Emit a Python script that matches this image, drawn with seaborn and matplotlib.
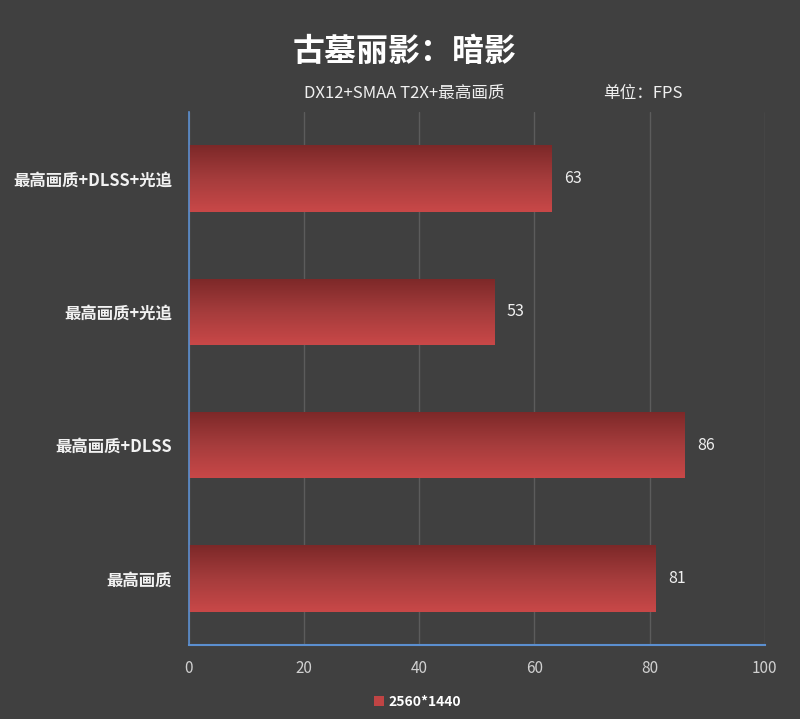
import matplotlib
matplotlib.use("Agg")
import matplotlib.pyplot as plt
import seaborn as sns
import numpy as np
import pandas as pd
from matplotlib.colors import LinearSegmentedColormap

categories = ["最高画质+DLSS+光追", "最高画质+光追", "最高画质+DLSS", "最高画质"]
values = [63, 53, 86, 81]
series_name = "2560*1440"
x_ticks = [0, 20, 40, 60, 80, 100]

sns.set_theme(style="dark")
plt.rcParams['font.family'] = ['Noto Sans CJK SC', 'DejaVu Sans']

bg = "#404040"
fig = plt.figure(figsize=(8, 7.19), dpi=100, facecolor=bg)
ax = fig.add_axes([0.236, 0.103, 0.72, 0.741])
ax.set_facecolor(bg)

df = pd.DataFrame({"cat": categories, "val": values})
sns.barplot(data=df, x="val", y="cat", orient="h", color="#b03a3a", width=0.5, ax=ax, zorder=3)

ax.set_xlim(0, 100)
ax.set_ylim(3.5, -0.5)
ax.set_xticks(x_ticks)
ax.set_xlabel("")
ax.set_ylabel("")

# gradient fill on bars
cmap = LinearSegmentedColormap.from_list("g", ["#7c2828", "#a53c3c", "#c94848"])
grad = np.linspace(0, 1, 256).reshape(-1, 1)
for p in ax.patches:
    x0, y0 = p.get_x(), p.get_y()
    w, h = p.get_width(), p.get_height()
    im = ax.imshow(grad, cmap=cmap, aspect="auto", extent=[x0, x0 + w, y0 + h, y0],
                   zorder=4, origin="upper")
    im.set_clip_path(p)
    p.set_edgecolor("none")

ax.set_xlim(0, 100)
ax.set_ylim(3.5, -0.5)

# grid
ax.grid(axis="x", color="#5c5c5c", linewidth=1, zorder=0)
ax.grid(axis="y", visible=False)
ax.set_axisbelow(True)

for s in ["top", "right"]:
    ax.spines[s].set_visible(False)
ax.spines["left"].set_color("#5b8fd0")
ax.spines["bottom"].set_color("#5b8fd0")
ax.spines["left"].set_linewidth(1.2)
ax.spines["bottom"].set_linewidth(1.5)
ax.spines["left"].set_zorder(6)
ax.spines["bottom"].set_zorder(6)

ax.tick_params(axis="x", colors="#d0d0d0", labelsize=11, length=0, pad=11)
ax.tick_params(axis="y", colors="#ffffff", labelsize=11.8, length=0, pad=12)
for lab in ax.get_yticklabels():
    lab.set_fontweight("bold")
    lab.set_color("#f2f2f2")

for i, v in enumerate(values):
    ax.text(v + 2.2, i, f"{v}", va="center", ha="left", color="#f0f0f0", fontsize=11.5, zorder=7)

fig.text(0.506, 0.928, "古墓丽影：暗影", ha="center", va="center", color="white",
         fontsize=23, fontweight="bold")
fig.text(0.506, 0.870, "DX12+SMAA T2X+最高画质", ha="center", va="center",
         color="#f0f0f0", fontsize=12)
fig.text(0.804, 0.870, "单位：FPS", ha="center", va="center", color="#f0f0f0", fontsize=12)

# legend
from matplotlib.patches import Patch
handle = Patch(facecolor="#c04444", edgecolor="none", label=series_name)
leg = fig.legend(handles=[handle], loc="center", bbox_to_anchor=(0.522, 0.024), frameon=False,
                 handlelength=0.7, handleheight=0.7, handletextpad=0.3,
                 prop={"size": 10, "weight": "bold"})
for t in leg.get_texts():
    t.set_color("white")

fig.savefig("out.png", dpi=100, facecolor=bg)
